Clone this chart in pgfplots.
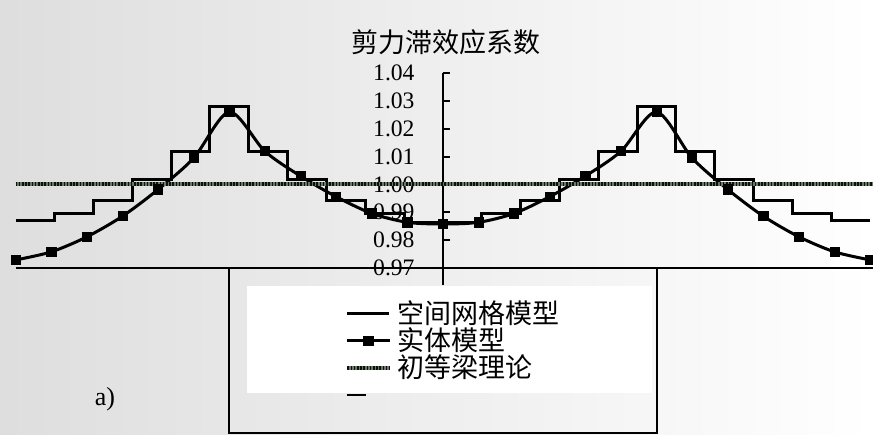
\documentclass[border=0pt]{standalone}
\usepackage{pgfplots}
\pgfplotsset{compat=1.18}
\usepackage{fontspec}
\setmainfont{Liberation Serif}
\newfontfamily\cjk{Noto Sans CJK SC}

\pgfplotsset{
  shortlegend/.style={legend image code/.code={\draw[##1] (0pt,0pt) -- (9.5pt,0pt);}},
}

% step values of the grid model, boundaries at k*24/22-12
\pgfplotstableread{
x        y
-12      0.9870
-10.9091 0.9896
-9.8182  0.9944
-8.7273  1.0018
-7.6364  1.0119
-6.5455  1.0278
-5.4545  1.0119
-4.3636  1.0018
-3.2727  0.9944
-2.1818  0.9896
-1.0909  0.9865
0        0.9865
1.0909   0.9896
2.1818   0.9944
3.2727   1.0018
4.3636   1.0119
5.4545   1.0278
6.5455   1.0119
7.6364   1.0018
8.7273   0.9944
9.8182   0.9896
10.9091  0.9870
12       0.9870
}\gridtab

\pgfplotstableread{
x   y
-12 0.9729
-11 0.9758
-10 0.9812
-9  0.9886
-8  0.9982
-7  1.0095
-6  1.0260
-5  1.0119
-4  1.0030
-3  0.9956
-2  0.9896
-1  0.9864
0   0.9858
1   0.9864
2   0.9896
3   0.9956
4   1.0030
5   1.0119
6   1.0260
7   1.0095
8   0.9982
9   0.9886
10  0.9812
11  0.9758
12  0.9729
}\solidtab

\begin{document}
\begin{tikzpicture}
\path[use as bounding box, left color=black!13, right color=white]
  (0pt,0pt) rectangle (436.5pt,217pt);
\draw[line width=1pt] (114.5pt,0.6pt) rectangle (328.5pt,83pt);
\fill[white] (123.5pt,20.5pt) rectangle (326pt,74pt);

\begin{axis}[
    at={(7.85pt,83pt)}, anchor=south west,
    scale only axis, width=428.65pt, height=97.5pt,
    xmin=-12, xmax=12.08, ymin=0.97, ymax=1.04,
    clip=false,
    axis x line=bottom, axis y line=center,
    hide obscured y ticks=false,
    axis line style={-, line width=1pt},
    xtick=\empty,
    extra x ticks={0}, extra x tick labels={},
    extra x tick style={major tick length=8.5pt, xtick align=outside},
    ytick={0.97,0.98,0.99,1.00,1.01,1.02,1.03,1.04},
    ytick align=inside, major tick length=3.5pt,
    tick style={black, line width=1pt},
    yticklabel style={anchor=east, inner sep=0pt, xshift=-14pt,
      font=\rmfamily\fontsize{11.8}{12}\selectfont,
      /pgf/number format/fixed, /pgf/number format/fixed zerofill,
      /pgf/number format/precision=2},
    /pgf/number format/assume math mode=true,
    legend style={at={(0.3841,-0.164)}, anchor=north west, draw=none, fill=none,
      inner sep=0pt, row sep=0pt, legend cell align=left,
      font=\cjk\fontsize{13.5}{13.5}\selectfont,
      nodes={inner xsep=3pt, inner ysep=0.3pt}},
    legend image code/.code={\draw[mark repeat=2, mark phase=2, #1]
      plot coordinates {(0pt,0pt) (10.5pt,0pt) (21pt,0pt)};},
]
\addplot[const plot, black, line width=1.5pt] table[x=x, y=y] {\gridtab};
\addlegendentry{空间网格模型}
\addplot[smooth, black, line width=1.5pt, mark=square*, mark size=2.3pt,
  mark options={solid, line width=0.4pt}] table[x=x, y=y] {\solidtab};
\addlegendentry{实体模型}
\addplot[line width=2pt, color=black!55,
  postaction={draw, line width=2pt, color=black!90!green, dash pattern=on 0.8pt off 0.8pt}]
  coordinates {(-12,1.00) (12.08,1.00)};
\addlegendentry{初等梁理论}
\addlegendimage{black, line width=0.6pt, shortlegend}
\addlegendentry{\vphantom{模}}
\end{axis}

\node[font=\cjk\fontsize{13.5}{13.5}\selectfont] at (223pt,196pt) {剪力滞效应系数};
\node[font=\fontsize{13}{13}\selectfont] at (52.5pt,17.5pt) {a)};
\end{tikzpicture}
\end{document}
